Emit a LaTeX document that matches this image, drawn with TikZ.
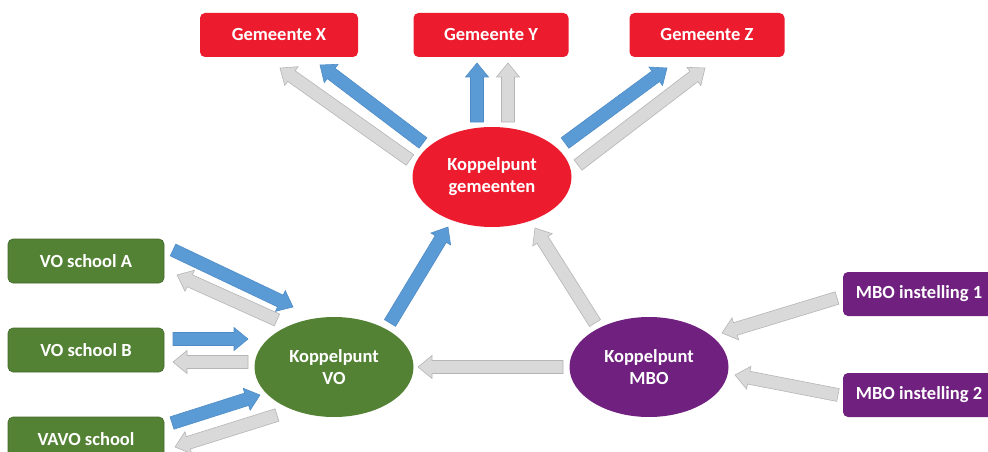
\documentclass[tikz,border=0pt]{standalone}
\usepackage{fontspec}
\setmainfont{Carlito}
\usetikzlibrary{calc,shapes.geometric}
\definecolor{gred}{HTML}{EC1C2E}
\definecolor{vgreen}{HTML}{548235}
\definecolor{mpurple}{HTML}{70207F}
\definecolor{ablue}{HTML}{5B9BD5}
\definecolor{ablueline}{HTML}{4F8CC6}
\definecolor{agray}{HTML}{D9D9D9}
\definecolor{agrayline}{HTML}{B5B5B5}
\tikzset{
  boxnode/.style={rectangle, rounded corners=5pt, minimum height=44pt, text=white, font=\bfseries\fontsize{18.5}{22}\selectfont, align=center, inner sep=0pt},
  redbox/.style={boxnode, fill=gred, minimum width=158pt},
  greenbox/.style={boxnode, fill=vgreen, draw=vgreen!80!black, line width=0.6pt, minimum width=156pt},
  purplebox/.style={boxnode, fill=mpurple, minimum width=152pt},
  hub/.style={ellipse, minimum width=159pt, minimum height=100pt, text=white, font=\bfseries\fontsize{18.5}{22}\selectfont, align=center, inner sep=0pt},
  bluearrow/.style={fill=ablue, draw=ablueline, line width=0.6pt, line join=miter},
  grayarrow/.style={fill=agray, draw=agrayline, line width=0.6pt, line join=miter}
}
% block arrow: style, from, to
\newcommand\blkarrow[3]{%
  \coordinate (hb) at ($(#3)!14pt!(#2)$);
  \draw[#1] ($(#2)!6.5pt!90:(#3)$) -- ($(hb)!6.5pt!90:(#3)$) -- ($(hb)!11.5pt!90:(#3)$) -- (#3)
     -- ($(hb)!11.5pt!-90:(#3)$) -- ($(hb)!6.5pt!-90:(#3)$) -- ($(#2)!6.5pt!-90:(#3)$) -- cycle;}
\begin{document}
\begin{tikzpicture}[x=1pt,y=-1pt]
\useasboundingbox (0,0) rectangle (988,452);
% nodes
\node[redbox] (gx) at (279,35) {Gemeente X};
\node[redbox, minimum width=155pt] (gy) at (491,35) {Gemeente Y};
\node[redbox, minimum width=155pt] (gz) at (707,35) {Gemeente Z};
\node[hub, fill=gred] (kg) at (492,177) {Koppelpunt\\gemeenten};
\node[greenbox] (va) at (86,261) {VO school A};
\node[greenbox] (vb) at (86,350) {VO school B};
\node[greenbox] (vv) at (86,439) {VAVO school};
\node[hub, fill=vgreen] (kvo) at (334,367) {Koppelpunt\\VO};
\node[hub, fill=mpurple] (kmbo) at (649,367) {Koppelpunt\\MBO};
\node[purplebox] (m1) at (919,294) {MBO instelling 1};
\node[purplebox] (m2) at (919,395) {MBO instelling 2};
% arrow end points
\coordinate (kgXg) at (410,160); \coordinate (gxg) at (280,68);
\coordinate (kgXb) at (423,143); \coordinate (gxb) at (320,65);
\coordinate (kgYb) at (477,122); \coordinate (gyb) at (477,63);
\coordinate (kgYg) at (508,122); \coordinate (gyg) at (508,63);
\coordinate (kgZb) at (565,143); \coordinate (gzb) at (667,68);
\coordinate (kgZg) at (578,165); \coordinate (gzg) at (705,68);
\coordinate (kvoUp) at (390,323); \coordinate (kgVO) at (448,227);
\coordinate (kmboUp) at (595,323); \coordinate (kgMBO) at (535,228);
\coordinate (kmboL) at (563,367); \coordinate (kvoR) at (418,367);
\coordinate (vaOut) at (173,250); \coordinate (kvoA) at (293,307);
\coordinate (kvoAo) at (277,320); \coordinate (vaIn) at (177,275);
\coordinate (vbOut) at (173,339); \coordinate (kvoB) at (248,339);
\coordinate (kvoBo) at (248,362); \coordinate (vbIn) at (173,362);
\coordinate (vvOut) at (172,423); \coordinate (kvoV) at (260,395);
\coordinate (kvoVo) at (277,415); \coordinate (vvIn) at (175,447);
\coordinate (m1Out) at (837,298); \coordinate (kmbo1) at (722,333);
\coordinate (m2Out) at (838,395); \coordinate (kmbo2) at (735,375);
% arrows
\blkarrow{grayarrow}{kgXg}{gxg}
\blkarrow{bluearrow}{kgXb}{gxb}
\blkarrow{bluearrow}{kgYb}{gyb}
\blkarrow{grayarrow}{kgYg}{gyg}
\blkarrow{bluearrow}{kgZb}{gzb}
\blkarrow{grayarrow}{kgZg}{gzg}
\blkarrow{bluearrow}{kvoUp}{kgVO}
\blkarrow{grayarrow}{kmboUp}{kgMBO}
\blkarrow{grayarrow}{kmboL}{kvoR}
\blkarrow{bluearrow}{vaOut}{kvoA}
\blkarrow{grayarrow}{kvoAo}{vaIn}
\blkarrow{bluearrow}{vbOut}{kvoB}
\blkarrow{grayarrow}{kvoBo}{vbIn}
\blkarrow{bluearrow}{vvOut}{kvoV}
\blkarrow{grayarrow}{kvoVo}{vvIn}
\blkarrow{grayarrow}{m1Out}{kmbo1}
\blkarrow{grayarrow}{m2Out}{kmbo2}
\end{tikzpicture}
\end{document}
